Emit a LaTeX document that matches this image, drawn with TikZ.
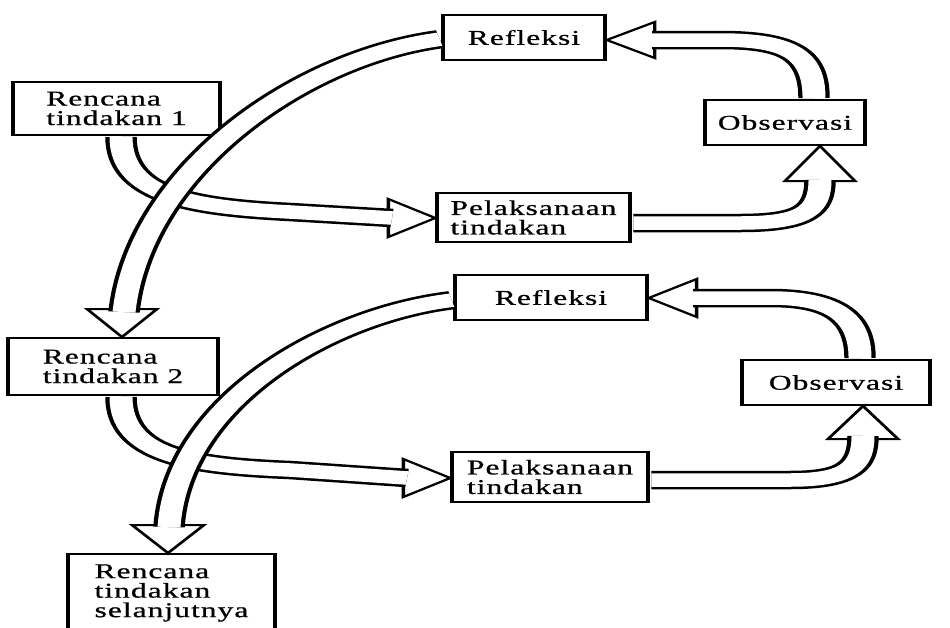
\documentclass[tikz,border=0pt]{standalone}
\usepackage{fontspec}
\setmainfont{Liberation Serif}[FakeStretch=0.88,FakeBold=0.6,LetterSpace=3]
\tikzset{
  box/.style={draw, line width=2pt, fill=white, inner sep=0pt, align=left,
    font=\fontsize{21pt}{19.5pt}\selectfont},
  shaft/.style={line width=2.5pt, double=white, double distance=13.5pt, shorten <=1pt},
  head/.style={draw, fill=white, line width=2pt, line join=miter},
}
\begin{document}
\begin{tikzpicture}
\useasboundingbox (0,0) rectangle (950pt,-627pt);
\begin{scope}[x={(0.588235pt,0pt)}, y={(0pt,-1pt)}, transform canvas={xscale=1.7}]
% nodes
\node[box, minimum width=121.8pt, minimum height=53pt] (r1) at (116.5,108.5) {Rencana\\tindakan 1};
\node[box, minimum width=95.3pt, minimum height=45pt] (f1) at (524,37.5) {Refleksi};
\node[box, minimum width=94.1pt, minimum height=45pt] (o1) at (785,122.5) {Observasi};
\node[box, minimum width=113.5pt, minimum height=49pt] (p1) at (533.5,217.5) {Pelaksanaan\\tindakan};
\node[box, minimum width=123.5pt, minimum height=57pt] (r2) at (113,366.5) {Rencana\\tindakan 2};
\node[box, minimum width=112.9pt, minimum height=45pt] (f2) at (551,297.5) {Refleksi};
\node[box, minimum width=110.6pt, minimum height=45pt] (o2) at (836,382.5) {Observasi};
\node[box, minimum width=115.3pt, minimum height=50pt] (p2) at (550,477) {Pelaksanaan\\tindakan};
\node[box, minimum width=121.8pt, minimum height=78pt, anchor=north] (rs) at (171.5,553) {Rencana\\tindakan\\selanjutnya};
% A1: Rencana 1 -> Pelaksanaan 1
\draw[head] (p1.west |- 0,218) -- ++(-47,-19) -- ++(0,38) -- cycle;
\draw[shaft] (121,0 |- r1.south) .. controls (121,195) and (190,207) .. (290,212) -- (392,218);
% A5: Rencana 2 -> Pelaksanaan 2
\draw[head] (p2.west |- 0,478) -- ++(-47,-19) -- ++(0,38) -- cycle;
\draw[shaft] (121,0 |- r2.south) .. controls (121,455) and (190,466) .. (290,470) -- (407,478);
% A2: Pelaksanaan 1 -> Observasi 1
\draw[head] (820,0 |- o1.south) -- ++(-35,35) -- ++(70,0) -- cycle;
\draw[shaft] (p1.east |- 0,223) -- (740,223) .. controls (805,223) and (820,210) .. (820,180);
% A3: Observasi 1 -> Refleksi 1
\draw[head] (f1.east |- 0,40) -- ++(48,-18) -- ++(0,36) -- cycle;
\draw[shaft] (814,0 |- o1.north) .. controls (814,55) and (790,40) .. (720,40) -- (652,40);
% A4: Refleksi 1 -> Rencana 2
\draw[head] (122,0 |- r2.north) -- ++(-35,-28) -- ++(70,0) -- cycle;
\draw[shaft] (f1.west |- 0,39) .. controls (300,58) and (140,170) .. (124,312);
% A6: Pelaksanaan 2 -> Observasi 2
\draw[head] (863,0 |- o2.south) -- ++(-35,33) -- ++(70,0) -- cycle;
\draw[shaft] (p2.east |- 0,480) -- (790,480) .. controls (850,480) and (863,465) .. (863,436);
% A7: Observasi 2 -> Refleksi 2
\draw[head] (f2.east |- 0,298) -- ++(48,-19) -- ++(0,38) -- cycle;
\draw[shaft] (860,0 |- o2.north) .. controls (860,318) and (835,298) .. (770,298) -- (693,298);
% A8: Refleksi 2 -> Rencana selanjutnya
\draw[head] (168,0 |- rs.north) -- ++(-36,-28) -- ++(72,0) -- cycle;
\draw[shaft] (f2.west |- 0,300) .. controls (330,315) and (178,400) .. (169,527);
\end{scope}
\end{tikzpicture}
\end{document}
